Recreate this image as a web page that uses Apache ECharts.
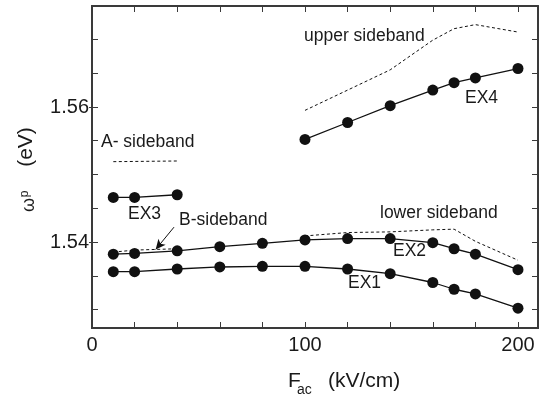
<!DOCTYPE html>
<html>
<head>
<meta charset="utf-8">
<script src="https://cdn.jsdelivr.net/npm/echarts@6/dist/echarts.min.js"></script>
<style>
  html, body { margin: 0; padding: 0; background: #fff; }
  #main { width: 542px; height: 396px; }
</style>
</head>
<body>
<div id="main"></div>
<script>
// field values (kV/cm)
const fieldX = [10, 20, 40, 60, 80, 100, 120, 140, 160, 170, 180, 200];
const ex1 = [1.5356, 1.5356, 1.5360, 1.5363, 1.5364, 1.5364, 1.5360, 1.5353, 1.5340, 1.5330, 1.5323, 1.5302];
const ex2 = [1.5382, 1.5383, 1.5387, 1.5393, 1.5398, 1.5403, 1.5405, 1.5405, 1.5399, 1.5390, 1.5382, 1.5359];
const ex3X = [10, 20, 40];
const ex3 = [1.5466, 1.5466, 1.5470];
const ex4X = [100, 120, 140, 160, 170, 180, 200];
const ex4 = [1.5552, 1.5577, 1.5602, 1.5625, 1.5636, 1.5643, 1.5657];

const upperX = [100, 120, 140, 160, 170, 180, 200];
const upperSb = [1.5595, 1.5625, 1.5655, 1.5699, 1.5716, 1.5722, 1.5711];
const lowerX = [100, 120, 140, 160, 170, 180, 200];
const lowerSb = [1.5409, 1.5414, 1.5415, 1.5418, 1.5419, 1.5401, 1.5373];
const aX = [10, 40];
const aSb = [1.5519, 1.5520];
const bX = [10, 20, 40];
const bSb = [1.5385, 1.5388, 1.5390];

const xTicks = [0, 20, 40, 60, 80, 100, 120, 140, 160, 180, 200];
const xLabels = [0, 100, 200];
const yTicks = [1.53, 1.535, 1.54, 1.545, 1.55, 1.555, 1.56, 1.565, 1.57];
const yLabels = [1.54, 1.56];

const pair = (xs, ys) => xs.map((x, i) => [x, ys[i]]);

const FONT = 'Liberation Sans, Arial, sans-serif';
const AX = '#3a3a3a';
const X_MAX = 209.4;
const Y_MIN = 1.52726;
const Y_MAX = 1.57496;

let chartDom = document.getElementById('main');
let myChart = echarts.init(chartDom);

const lineOn = {show: true, onZero: false, lineStyle: {color: AX, width: 2}};
const insideTicks = (vals) => ({
  show: true, inside: true, length: 6, customValues: vals, lineStyle: {color: AX, width: 1},
});

// tick-only axes (no labels)
const xTickAxis = (pos, grid) => ({
  type: 'value', gridIndex: grid, position: pos, min: 0, max: X_MAX,
  axisLine: lineOn, splitLine: {show: false}, axisLabel: {show: false},
  axisTick: insideTicks(xTicks),
});
const yTickAxis = (pos, grid) => ({
  type: 'value', gridIndex: grid, position: pos, min: Y_MIN, max: Y_MAX,
  axisLine: lineOn, splitLine: {show: false}, axisLabel: {show: false},
  axisTick: insideTicks(yTicks),
});

const solid = (name, data) => ({
  name: name,
  type: 'line',
  data: data,
  symbol: 'circle',
  symbolSize: 11,
  itemStyle: {color: '#111'},
  lineStyle: {color: '#111', width: 1.3},
  z: 3,
});
const dashed = (name, data) => ({
  name: name,
  type: 'line',
  data: data,
  showSymbol: false,
  symbol: 'none',
  lineStyle: {color: '#111', width: 1, type: [3, 2.5]},
  z: 2,
});

const txt = (text, x, y, size) => ({
  type: 'text',
  left: x,
  top: y - size / 2,
  style: {text: text, font: size + 'px ' + FONT, fill: '#1a1a1a'},
});

const gridRect = {left: 92, right: 4, top: 6, bottom: 68};

let option = {
  animation: false,
  backgroundColor: '#fff',
  grid: [gridRect, {...gridRect}],
  xAxis: [
    {
      type: 'value', gridIndex: 0, position: 'bottom', min: 0, max: X_MAX,
      axisLine: lineOn, splitLine: {show: false}, axisTick: {show: false},
      axisLabel: {
        customValues: xLabels,
        fontSize: 20,
        fontFamily: FONT,
        color: '#1a1a1a',
        margin: 7,
      },
    },
    xTickAxis('top', 0),
    xTickAxis('bottom', 1),
  ],
  yAxis: [
    {
      type: 'value', gridIndex: 0, position: 'left', min: Y_MIN, max: Y_MAX,
      axisLine: lineOn, splitLine: {show: false},
      axisTick: {show: true, length: 3, customValues: yLabels, lineStyle: {color: AX, width: 1}},
      axisLabel: {
        customValues: yLabels,
        fontSize: 20,
        fontFamily: FONT,
        color: '#1a1a1a',
        margin: 3,
        formatter: (v) => v.toFixed(2),
      },
    },
    yTickAxis('right', 0),
    yTickAxis('left', 1),
  ],
  series: [
    solid('EX1', pair(fieldX, ex1)),
    solid('EX2', pair(fieldX, ex2)),
    solid('EX3', pair(ex3X, ex3)),
    solid('EX4', pair(ex4X, ex4)),
    dashed('upper sideband', pair(upperX, upperSb)),
    dashed('lower sideband', pair(lowerX, lowerSb)),
    dashed('A- sideband', pair(aX, aSb)),
    {
      ...dashed('B-sideband', pair(bX, bSb)),
      markLine: {
        silent: true,
        symbol: ['none', 'arrow'],
        symbolSize: [7, 10],
        label: {show: false},
        lineStyle: {color: '#111', width: 1, type: 'solid'},
        data: [[{coord: [38.5, 1.5422]}, {coord: [29.9, 1.5389]}]],
      },
    },
  ],
  graphic: [
    txt('upper sideband', 304, 35.5, 17.5),
    txt('EX4', 465, 97.5, 17.5),
    txt('lower sideband', 380, 212.5, 17.5),
    txt('EX2', 393, 251, 17.5),
    txt('EX1', 348, 283, 17.5),
    txt('A- sideband', 101, 141.7, 17.5),
    txt('EX3', 128, 213.7, 17.5),
    txt('B-sideband', 179, 219.8, 17.5),
    // x axis title
    txt('F', 288, 381, 21),
    txt('ac', 297, 390, 14),
    txt('(kV/cm)', 328, 381, 21),
    // y axis title (rotated)
    {
      type: 'text',
      x: 26,
      y: 147,
      rotation: Math.PI / 2,
      style: {text: '(eV)', font: '21px ' + FONT, fill: '#1a1a1a', align: 'center', verticalAlign: 'middle'},
    },
    {
      type: 'text',
      x: 29,
      y: 205,
      rotation: Math.PI / 2,
      style: {text: 'ω', font: '18px ' + FONT, fill: '#1a1a1a', align: 'center', verticalAlign: 'middle'},
    },
    {
      type: 'text',
      x: 25,
      y: 194,
      rotation: Math.PI / 2,
      style: {text: 'p', font: '12px ' + FONT, fill: '#1a1a1a', align: 'center', verticalAlign: 'middle'},
    },
  ],
};
option && myChart.setOption(option);
</script>
</body>
</html>
